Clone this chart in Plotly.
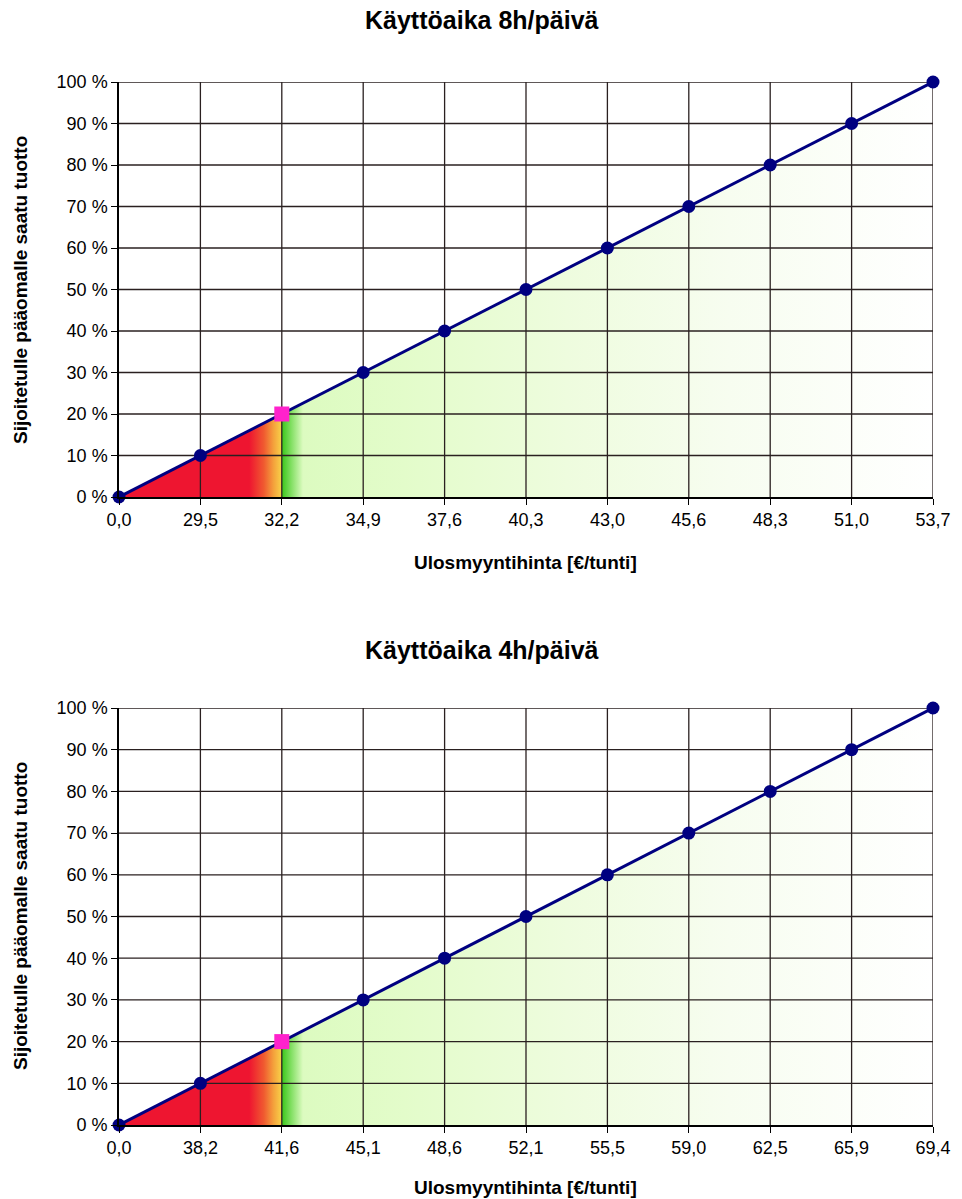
import plotly.graph_objects as go

# Sales price categories (€/hour) for the two daily usage times
price_labels_8h = ["0,0", "29,5", "32,2", "34,9", "37,6", "40,3", "43,0", "45,6", "48,3", "51,0", "53,7"]
price_labels_4h = ["0,0", "38,2", "41,6", "45,1", "48,6", "52,1", "55,5", "59,0", "62,5", "65,9", "69,4"]

# Return on invested capital (%) at each price point
return_pct = [0, 10, 20, 30, 40, 50, 60, 70, 80, 90, 100]

# Required return level, highlighted with a square marker
target_index = 2
target_pct = 20

y_ticks = [0, 10, 20, 30, 40, 50, 60, 70, 80, 90, 100]
y_tick_text = ["0 %", "10 %", "20 %", "30 %", "40 %", "50 %", "60 %", "70 %", "80 %", "90 %", "100 %"]

W, H = 962, 1199
L, R = 119, 29
plot_w = W - L - R

FONT = "Liberation Sans, Arial, sans-serif"
GRID = "#2a2020"
NAVY = "#000080"

# Horizontal fill gradient: red loss zone, warm edge, then green fading to white
fill_scale = [
    [0.0, "#ee1530"],
    [0.160, "#ee1530"],
    [0.178, "#f05a30"],
    [0.190, "#f4a23c"],
    [0.1995, "#f8d048"],
    [0.2005, "#3cc81e"],
    [0.210, "#78dc58"],
    [0.226, "#dcfbc0"],
    [0.35, "#e3fcca"],
    [0.55, "#eefcde"],
    [0.75, "#f7fdf0"],
    [1.0, "#ffffff"],
]


def add_panel(fig, labels, xa, ya):
    xs = list(range(len(labels)))
    # Filled area under the curve
    fig.add_trace(go.Scatter(
        x=xs, y=return_pct, mode="lines", line=dict(width=0, color=NAVY),
        fill="tozeroy",
        fillgradient=dict(type="horizontal", colorscale=fill_scale,
                          start=xs[0], stop=xs[-1]),
        hoverinfo="skip", showlegend=False, xaxis=xa, yaxis=ya))
    # Grid lines drawn over the fill
    gx, gy = [], []
    for i in xs[1:]:
        gx += [i, i, None]
        gy += [y_ticks[0], y_ticks[-1], None]
    for v in y_ticks[1:]:
        gx += [xs[0], xs[-1], None]
        gy += [v, v, None]
    fig.add_trace(go.Scatter(
        x=gx, y=gy, mode="lines", line=dict(color=GRID, width=1.3),
        hoverinfo="skip", showlegend=False, xaxis=xa, yaxis=ya))
    # Return curve
    fig.add_trace(go.Scatter(
        x=xs, y=return_pct, mode="lines+markers",
        line=dict(color=NAVY, width=3),
        marker=dict(color=NAVY, size=13, symbol="circle"),
        cliponaxis=False, showlegend=False, xaxis=xa, yaxis=ya))
    # Target return marker
    fig.add_trace(go.Scatter(
        x=[xs[target_index]], y=[target_pct], mode="markers",
        marker=dict(color="#ff22cc", size=15, symbol="square"),
        cliponaxis=False, showlegend=False, xaxis=xa, yaxis=ya))
    return xs


fig = go.Figure()
xs8 = add_panel(fig, price_labels_8h, "x", "y")
xs4 = add_panel(fig, price_labels_4h, "x2", "y2")


def py(pix):
    return 1 - pix / H


def px(pix):
    return (pix - L) / plot_w


tick_font = dict(family=FONT, size=18, color="#000000")


def xaxis(xs, labels, anchor):
    return dict(
        range=[xs[0], xs[-1]], tickmode="array", tickvals=xs, ticktext=labels,
        showgrid=False, zeroline=False, showline=True, linecolor="#000000",
        linewidth=1.5, ticks="outside", ticklen=6, tickcolor="#000000",
        tickfont=tick_font, anchor=anchor, fixedrange=True, automargin=False)


def yaxis(top_pix, bottom_pix, anchor):
    return dict(
        range=[0, 100], domain=[py(bottom_pix), py(top_pix)], tickmode="array",
        tickvals=y_ticks, ticktext=y_tick_text, showgrid=False, zeroline=False,
        showline=True, linecolor="#000000", linewidth=1.5, ticks="outside",
        ticklen=6, tickcolor="#000000", tickfont=tick_font, anchor=anchor,
        fixedrange=True, automargin=False)


annotations = []
for title, t_pix, xt_pix, yt_pix in [
    ("Käyttöaika 8h/päivä", 20, 562, 290),
    ("Käyttöaika 4h/päivä", 650, 1187, 916),
]:
    annotations.append(dict(
        text="<b>" + title + "</b>", x=px(482), y=py(t_pix), xref="paper",
        yref="paper", showarrow=False, xanchor="center", yanchor="middle",
        font=dict(family=FONT, size=25, color="#000000")))
    annotations.append(dict(
        text="<b>Ulosmyyntihinta [€/tunti]</b>", x=px(525), y=py(xt_pix),
        xref="paper", yref="paper", showarrow=False, xanchor="center",
        yanchor="middle", font=dict(family=FONT, size=19, color="#000000")))
    annotations.append(dict(
        text="<b>Sijoitetulle pääomalle saatu tuotto</b>", x=px(20),
        y=py(yt_pix), xref="paper", yref="paper", showarrow=False,
        xanchor="center", yanchor="middle", textangle=-90,
        font=dict(family=FONT, size=19, color="#000000")))

fig.update_layout(
    width=W, height=H, margin=dict(l=L, r=R, t=0, b=0, pad=0, autoexpand=False),
    paper_bgcolor="#ffffff", plot_bgcolor="#ffffff",
    xaxis=xaxis(xs8, price_labels_8h, "y"),
    yaxis=yaxis(82, 497, "x"),
    xaxis2=xaxis(xs4, price_labels_4h, "y2"),
    yaxis2=yaxis(708, 1125, "x2"),
    annotations=annotations,
    showlegend=False,
)

fig.write_html("out.html")
